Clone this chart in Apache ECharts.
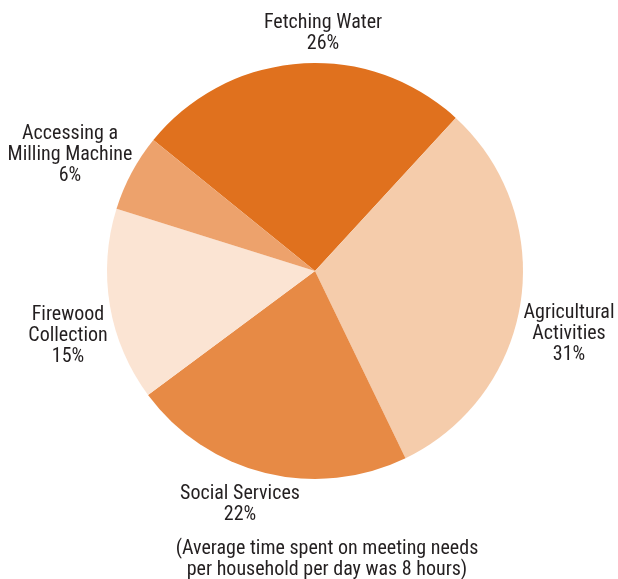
<!DOCTYPE html>
<html>
<head>
<meta charset="utf-8">
<script src="https://cdn.jsdelivr.net/npm/echarts@6/dist/echarts.min.js"></script>
<style>
  html, body { margin: 0; padding: 0; background: #fff; }
  #chart { width: 618px; height: 579px; }
</style>
</head>
<body>
<div id="chart"></div>
<script>
// Household time use by activity (share of time, %)
const categories = [
  'Fetching Water',
  'Agricultural\nActivities',
  'Social Services',
  'Firewood\nCollection',
  'Accessing a\nMilling Machine'
];
const shares = [26, 31, 22, 15, 6];
const sliceColors = ['#E0711E', '#F5CCAB', '#E78A45', '#FBE4D3', '#EDA26C'];
const footnote = '(Average time spent on meeting needs\nper household per day was 8 hours)';

// label anchor points (centre of each label block)
const labelAnchors = [
  [323, 33],
  [569, 334],
  [240, 504],
  [68, 336],
  [70, 155]
];

const FONT = '"Liberation Sans Narrow", "Roboto Condensed", "Liberation Sans", sans-serif';

const chart = echarts.init(document.getElementById('chart'), null, { renderer: 'canvas' });

chart.setOption({
  backgroundColor: '#ffffff',
  animation: false,
  series: [{
    type: 'pie',
    center: [315, 271],
    radius: [0, 208],
    startAngle: 141,
    clockwise: true,
    avoidLabelOverlap: false,
    itemStyle: { borderWidth: 0 },
    label: {
      show: true,
      position: 'outside',
      formatter: p => p.name + '\n' + p.value + '%',
      fontFamily: FONT,
      fontSize: 20,
      lineHeight: 21,
      color: '#231f20',
      align: 'center'
    },
    labelLine: { show: false },
    labelLayout: p => {
      const a = labelAnchors[p.dataIndex];
      return { x: a[0], y: a[1], align: 'center', verticalAlign: 'middle' };
    },
    data: categories.map((c, i) => ({
      name: c,
      value: shares[i],
      itemStyle: { color: sliceColors[i] }
    }))
  }],
  graphic: [{
    type: 'text',
    x: 327,
    y: 559,
    style: {
      text: footnote,
      fontFamily: FONT,
      fontSize: 20,
      lineHeight: 21,
      fill: '#231f20',
      align: 'center',
      verticalAlign: 'middle'
    }
  }]
});
</script>
</body>
</html>
